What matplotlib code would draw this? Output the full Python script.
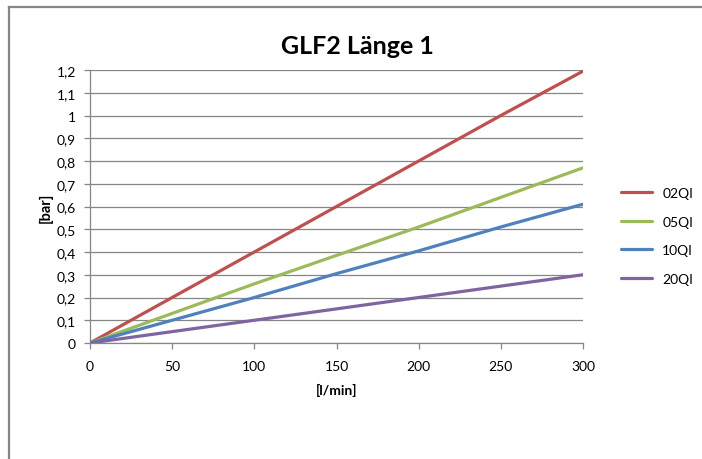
import matplotlib
matplotlib.use("Agg")
import matplotlib.pyplot as plt
from matplotlib.lines import Line2D
from matplotlib.ticker import FuncFormatter

plt.rcParams["font.family"] = ["Lato", "DejaVu Sans"]

# data
flow = [0, 50, 100, 150, 200, 250, 300]
series_names = ["02QI", "05QI", "10QI", "20QI"]
p_02qi = [0, 0.20, 0.40, 0.60, 0.80, 1.00, 1.195]
p_05qi = [0, 0.13, 0.26, 0.385, 0.51, 0.64, 0.77]
p_10qi = [0, 0.10, 0.20, 0.305, 0.405, 0.51, 0.61]
p_20qi = [0, 0.05, 0.10, 0.15, 0.20, 0.25, 0.30]
colors = ["#C0504D", "#9BBB59", "#4F81BD", "#8064A2"]

W, H = 702, 460
fig = plt.figure(figsize=(W / 100, H / 100), dpi=100)

# chart area border (left and top visible)
fig.add_artist(Line2D([9 / W, 9 / W], [0, 1 - 8 / H], transform=fig.transFigure,
                      color="#868686", lw=1.6))
fig.add_artist(Line2D([9 / W, 1], [1 - 8 / H, 1 - 8 / H], transform=fig.transFigure,
                      color="#868686", lw=1.6))

left, right, top, bottom = 90 / W, 583 / W, 71 / H, 344 / H
ax = fig.add_axes([left, 1 - bottom, right - left, bottom - top])

handles = []
for name, vals, c in zip(series_names, [p_02qi, p_05qi, p_10qi, p_20qi], colors):
    h, = ax.plot(flow, vals, color=c, lw=2.3, label=name, solid_capstyle="round",
                 zorder=3)
    handles.append(h)


def comma_fmt(v, pos):
    if v == 0:
        return "0"
    return f"{v:.1f}".rstrip("0").rstrip(".").replace(".", ",")


ax.set_xlim(0, 300)
ax.set_ylim(0, 1.2)
ax.set_xticks(range(0, 301, 50))
ax.set_yticks([i / 10 for i in range(13)])
ax.yaxis.set_major_formatter(FuncFormatter(comma_fmt))
ax.grid(axis="y", color="#868686", lw=0.9)
ax.set_axisbelow(True)
for s in ["top", "right"]:
    ax.spines[s].set_visible(False)
for s in ["left", "bottom"]:
    ax.spines[s].set_color("#868686")
    ax.spines[s].set_linewidth(0.9)
ax.tick_params(axis="both", colors="#868686", labelcolor="black", labelsize=10,
               length=4, width=0.9, direction="out")
ax.tick_params(axis="x", pad=8)
ax.tick_params(axis="y", pad=6)

ax.set_xlabel("[l/min]", fontsize=10, fontweight="bold", labelpad=8)
ax.set_ylabel("[bar]", fontsize=10.5, fontweight="bold", labelpad=3)
fig.text(357 / W, 1 - 47 / H, "GLF2 Länge 1", ha="center", va="center",
         fontsize=18, fontweight="bold")

fig.legend(handles=handles, loc="center left", bbox_to_anchor=(608 / W, 1 - 237 / H),
           frameon=False, fontsize=10, handlelength=2.3, labelspacing=1.2,
           handletextpad=0.7)

fig.savefig("out.png", dpi=100)
